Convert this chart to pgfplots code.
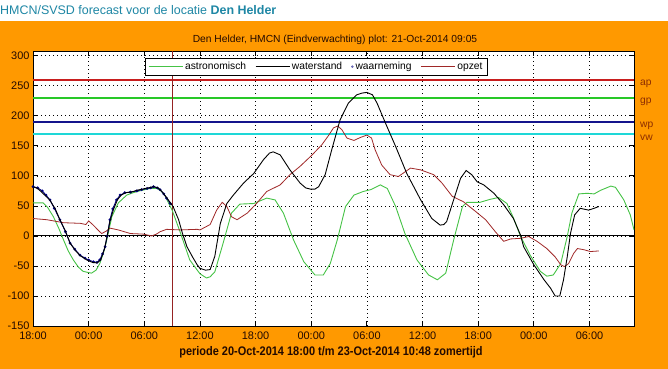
\documentclass[border=0pt]{standalone}
\usepackage{fontspec}
\setmainfont{Liberation Sans}
\newfontfamily\narrowfont{Liberation Sans}[FakeStretch=0.88]
\usepackage{pgfplots}
\pgfplotsset{compat=1.18}
\definecolor{bgorange}{RGB}{255,153,0}
\definecolor{headcol}{RGB}{30,135,165}
\definecolor{txtdark}{RGB}{35,10,0}
\definecolor{astro}{RGB}{70,195,70}
\definecolor{gpgreen}{RGB}{40,200,40}
\definecolor{opzetred}{RGB}{160,40,40}
\definecolor{apred}{RGB}{200,30,30}
\definecolor{wpblue}{RGB}{20,20,140}
\definecolor{vwcyan}{RGB}{30,215,215}
\definecolor{obsblue}{RGB}{0,0,130}
\definecolor{lblred}{RGB}{140,45,0}
\definecolor{vlinered}{RGB}{150,35,35}
\begin{document}
\begin{tikzpicture}
\fill[bgorange] (0bp,0bp) rectangle (668bp,348bp);
\fill[white] (0bp,348bp) rectangle (668bp,369bp);
\node[anchor=west, inner sep=0pt, text=headcol, font=\fontsize{12.5}{14}\selectfont] at (0bp,359bp) {HMCN/SVSD forecast voor de locatie \textbf{Den Helder}};
\begin{axis}[
  at={(33bp,43bp)}, anchor=south west, scale only axis, width=601bp, height=275bp,
  xmin=0, xmax=64.8, ymin=-150, ymax=308,
  axis background/.style={fill=white},
  axis line style={black, line width=0.9bp},
  xtick={0,6,...,60},
  xticklabels={18:00,00:00,06:00,12:00,18:00,00:00,06:00,12:00,18:00,00:00,06:00},
  ytick={-150,-100,...,300},
  xtick pos=both, ytick pos=both, xticklabel pos=lower, yticklabel pos=left,
  tick align=inside, major tick length=5bp, tick style={black, line width=0.8bp},
  grid=major, major grid style={black, line width=0.7bp, dash pattern=on 0.8bp off 3.2bp},
  ticklabel style={font=\fontsize{11}{13}\selectfont, text=txtdark},
  xticklabel style={yshift=-2.5bp},
  /pgf/number format/assume math mode=true,
  clip mode=individual,
  legend columns=-1,
  legend style={at={(0.186,0.975)}, anchor=north west, draw=black, line width=0.8bp, fill=white,
    font=\fontsize{10.3}{12}\selectfont, inner xsep=3bp, inner ysep=2bp,
    /tikz/every even column/.append style={column sep=7bp}},
  legend image code/.code={\draw[#1] (0bp,0bp) -- (34bp,0bp);},
]
% reference levels
\addplot[draw=apred, line width=1.5bp, forget plot] coordinates {(0,260) (64.8,260)};
\addplot[draw=gpgreen, line width=1.5bp, forget plot] coordinates {(0,230) (64.8,230)};
\addplot[draw=wpblue, line width=1.5bp, forget plot] coordinates {(0,190) (64.8,190)};
\addplot[draw=vwcyan, line width=1.5bp, forget plot] coordinates {(0,170) (64.8,170)};
\addplot[draw=black, line width=0.9bp, forget plot] coordinates {(0,0) (64.8,0)};
\addplot[draw=vlinered, line width=0.9bp, forget plot] coordinates {(15.08,-150) (15.08,308)};
% astronomisch
\addplot[astro, line width=0.9bp, forget plot] coordinates {
(0,55) (1.1,55) (1.6,47) (2.2,32) (2.8,12) (3.3,-7) (3.8,-25) (4.35,-40) (4.9,-52) (5.4,-59)
(6.3,-62) (6.8,-57) (7.2,-46) (7.6,-28) (7.95,-7) (8.5,32) (9.2,55) (10.1,68) (10.8,72) (11.5,75)
(12.6,79) (13.35,79) (13.8,75) (14.2,68) (15.0,43) (15.9,5) (16.9,-40) (18.0,-63) (18.7,-70) (19.1,-68)
(19.6,-60) (20.5,-12) (21.4,38) (22.3,53) (23.8,54) (25.2,63) (26.1,60) (27.0,38) (28.1,-7) (29.2,-43)
(30.4,-65) (31.3,-65) (32.05,-46) (32.8,-7) (33.7,49) (34.6,68) (35.6,74) (36.4,77) (37.45,85) (38.2,79)
(39.1,49) (40.1,4) (41.4,-40) (42.65,-65) (43.6,-73) (44.5,-62) (45.35,-7) (46.3,49) (46.8,56) (48.2,56)
(49.3,61) (50.2,64) (51.1,54) (51.8,30) (52.55,0) (53.6,-32) (54.7,-59) (55.4,-67) (56.1,-65) (56.9,-46)
(57.6,-1) (58.1,38) (58.85,70) (59.75,71) (60.5,70) (61.2,76) (62.3,83) (62.8,81) (63.7,60) (64.4,35) (64.8,10)};
% opzet
\addplot[opzetred, line width=0.8bp, forget plot] coordinates {
(0,29) (1.5,27) (3.3,22) (5.1,21) (5.7,19) (6.0,25) (6.5,18) (7.0,10) (7.4,4) (7.9,8)
(8.3,13) (9.2,10) (10.5,4) (11.9,3) (12.8,0) (13.3,3) (13.7,7) (14.4,11) (15.9,10) (17.7,11)
(18.0,10) (19.1,19) (19.8,43) (20.4,56) (20.9,49) (21.4,32) (22.0,27) (23.1,38) (24.1,54) (25.2,74)
(26.65,85) (27.7,102) (28.8,116) (30.1,135) (31.15,152) (31.9,168) (32.4,180) (32.85,183) (33.3,177) (33.85,163)
(34.6,159) (35.3,164) (36.0,168) (36.5,163) (36.9,143) (37.6,118) (38.5,102) (39.4,99) (40.7,113) (41.8,110)
(43.2,102) (44.1,88) (45.2,66) (46.4,57) (47.7,41) (48.8,27) (49.85,7) (50.75,-9) (51.5,-5) (52.55,-4)
(53.45,-1) (54.35,-9) (55.4,-21) (56.3,-35) (56.9,-48) (57.3,-51) (57.75,-46) (58.3,-29) (58.7,-21) (59.4,-23)
(60.1,-26) (61.0,-25)};
% waarneming
\addplot[obsblue, line width=0.9bp, mark=*, mark size=0.9bp, mark options={fill=obsblue}, forget plot] coordinates {
(0,82) (0.5,80) (1.0,75) (1.4,68) (1.83,60) (2.3,46) (2.9,27) (3.5,7) (4.0,-12) (4.5,-22)
(5.07,-32) (5.6,-37) (6.0,-40) (6.5,-43) (6.9,-44) (7.2,-40) (7.5,-30) (7.77,-18) (8.0,0) (8.3,27)
(8.6,45) (9.0,60) (9.4,68) (9.9,72) (10.5,73) (11.2,75) (11.7,77) (12.3,79) (12.7,80) (13.0,82)
(13.4,80) (13.7,77) (14.1,70) (14.4,63) (14.8,54)};
% waterstand
\addplot[black, line width=0.9bp, forget plot] coordinates {
(0,82) (0.5,79) (1.0,72) (1.8,60) (2.4,45) (2.9,27) (3.5,8) (4.0,-12) (4.6,-25) (5.1,-33)
(5.8,-40) (6.4,-44) (6.9,-45) (7.3,-40) (7.7,-22) (8.0,0) (8.3,25) (8.7,45) (9.1,60) (9.5,68)
(10.0,72) (10.6,73) (11.2,76) (11.8,78) (12.4,80) (13.0,82) (13.5,80) (14.0,72) (14.5,62) (15.1,49)
(15.7,27) (16.1,5) (16.6,-18) (17.2,-35) (17.7,-48) (18.0,-54) (18.6,-57) (19.1,-56) (19.6,-34) (20.2,21)
(20.9,54) (21.6,68) (22.7,88) (23.8,104) (24.85,127) (25.5,138) (25.9,140) (26.65,135) (27.7,110) (28.8,88)
(29.4,80) (29.9,78) (30.4,78) (30.8,82) (31.5,102) (32.2,143) (33.1,193) (34.0,221) (34.9,235) (35.5,238)
(36.0,239) (36.6,235) (37.1,221) (38.0,188) (39.1,149) (40.3,104) (41.8,60) (43.0,29) (43.9,18) (44.3,19)
(44.6,24) (45.35,60) (46.1,96) (46.7,109) (47.3,102) (47.9,90) (48.6,85) (49.7,71) (50.75,52) (51.8,29)
(52.55,2) (52.9,-18) (54.0,-48) (55.1,-73) (55.8,-87) (56.3,-100) (56.8,-100) (57.2,-73) (57.6,-35) (57.95,4)
(58.4,35) (59.0,46) (59.9,43) (60.5,46) (61.0,49)};
% legend
\addlegendimage{astro, line width=0.9bp}
\addlegendentry{astronomisch}
\addlegendimage{black, line width=0.9bp}
\addlegendentry{waterstand}
\addlegendimage{legend image code/.code={\fill[obsblue!60] (17bp,0bp) circle (0.8bp);}}
\addlegendentry{waarneming}
\addlegendimage{opzetred, line width=0.9bp}
\addlegendentry{opzet}
% level labels
\node[anchor=west, inner sep=0pt, xshift=6bp, yshift=-4bp, text=lblred, font=\fontsize{10.3}{12}\selectfont] at (axis cs:64.8,260) {ap};
\node[anchor=west, inner sep=0pt, xshift=6bp, yshift=-4bp, text=lblred, font=\fontsize{10.3}{12}\selectfont] at (axis cs:64.8,230) {gp};
\node[anchor=west, inner sep=0pt, xshift=6bp, yshift=-4bp, text=lblred, font=\fontsize{10.3}{12}\selectfont] at (axis cs:64.8,190) {wp};
\node[anchor=west, inner sep=0pt, xshift=6bp, yshift=-4bp, text=lblred, font=\fontsize{10.3}{12}\selectfont] at (axis cs:64.8,170) {vw};
\end{axis}
\node[text=txtdark, font=\fontsize{10.3}{12}\selectfont] at (335bp,329bp) {Den Helder, HMCN (Eindverwachting) plot: 21-Oct-2014 09:05};
\node[text=txtdark, font=\narrowfont\bfseries\fontsize{12.5}{14}\selectfont] at (331bp,17bp) {periode 20-Oct-2014 18:00 t/m 23-Oct-2014 10:48 zomertijd};
\end{tikzpicture}
\end{document}
